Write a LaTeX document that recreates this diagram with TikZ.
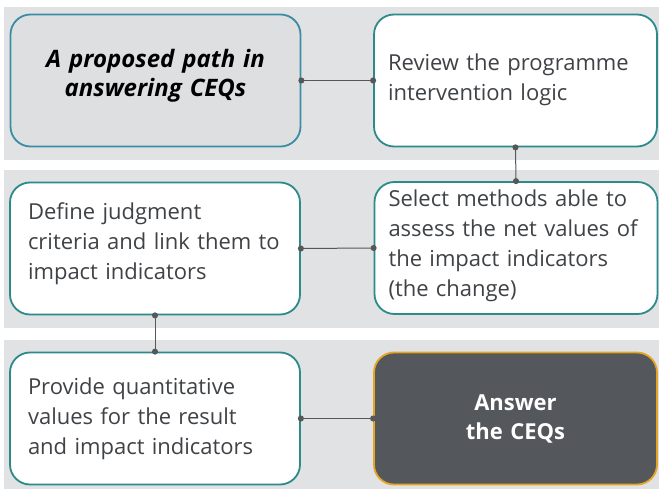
\documentclass[tikz,border=0pt]{standalone}
\usepackage{fontspec}
\setmainfont{Open Sans}
\usetikzlibrary{arrows.meta}

\definecolor{bandgray}{HTML}{E1E2E4}
\definecolor{titlefill}{HTML}{DEDFE1}
\definecolor{titleline}{HTML}{3A8DA3}
\definecolor{stepline}{HTML}{2C8A8A}
\definecolor{steptext}{HTML}{3F4246}
\definecolor{answerfill}{HTML}{54575B}
\definecolor{answerline}{HTML}{E4A424}
\definecolor{linkgray}{HTML}{555759}

% extra space below the last line, so the text sits a bit high in its box
\newcommand{\textlift}[1]{\par\vspace*{#1}}

\begin{document}
\begin{tikzpicture}[x=1pt, y=-1pt,
    stepbox/.style={draw=stepline, line width=1.8pt, fill=white,
        rounded corners=20pt, minimum height=132pt,
        align=left, text=steptext, font=\fontsize{22}{30}\selectfont},
    leftbox/.style={stepbox, minimum width=290pt, inner xsep=18pt, text width=254pt},
    rightbox/.style={stepbox, minimum width=283pt, inner xsep=14pt, text width=255pt},
    link/.style={draw=linkgray, line width=1pt,
        {Circle[length=6pt]}-{Circle[length=6pt]},
        shorten <=-3pt, shorten >=-3pt}]
    \useasboundingbox (0,0) rectangle (659,489);

    % Background bands
    \fill[bandgray] (4,7) rectangle (659,160);
    \fill[bandgray] (4,170) rectangle (659,328);
    \fill[bandgray] (4,340) rectangle (659,489);

    % Steps
    \node[leftbox, draw=titleline, fill=titlefill, text=black, align=center,
        font=\fontsize{24}{29}\selectfont\bfseries\itshape]
        (title) at (155.5,80.5) {A proposed path in\\answering CEQs\textlift{10pt}};
    \node[rightbox] (review) at (515.5,80.5)
        {Review the programme\\intervention logic\textlift{2pt}};
    \node[rightbox] (select) at (516,248)
        {Select methods able to\\assess the net values of\\the impact indicators\\(the change)\textlift{4pt}};
    \node[leftbox] (define) at (155,248.5)
        {Define judgment\\criteria and link them to\\impact indicators\textlift{9pt}};
    \node[leftbox] (provide) at (155,418.5)
        {Provide quantitative\\values for the result\\and impact indicators};
    \node[rightbox, draw=answerline, fill=answerfill, text=white, align=center,
        font=\fontsize{22}{29}\selectfont\bfseries]
        (answer) at (515.5,418.5) {Answer\\the CEQs};

    % Links
    \draw[link] (title.east) -- (review.west);
    \draw[link] (review.south) -- (select.north);
    \draw[link] (select.west) -- (define.east);
    \draw[link] (define.south) -- (provide.north);
    \draw[link] (provide.east) -- (answer.west);
\end{tikzpicture}
\end{document}
